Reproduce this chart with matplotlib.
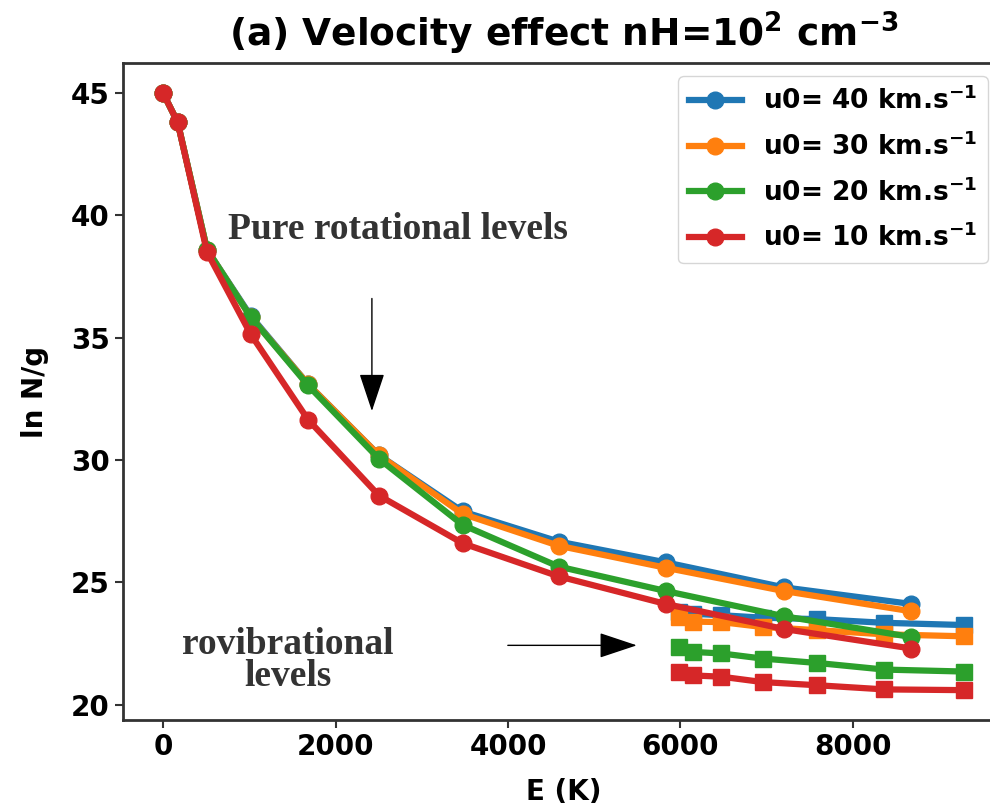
import numpy as np
from matplotlib import pyplot as plt

# Energies of the H2 levels (K)
E_rot = [0, 170, 510, 1015, 1682, 2504, 3474, 4586, 5829, 7197, 8677]
E_vib = [5987, 6149, 6471, 6951, 7586, 8365, 9286]

labels = ['u0= 40 km.s$^{-1}$', 'u0= 30 km.s$^{-1}$',
          'u0= 20 km.s$^{-1}$', 'u0= 10 km.s$^{-1}$']
colors = ['tab:blue', 'tab:orange', 'tab:green', 'tab:red']

# ln N/g, pure rotational levels
rot_40 = [45.0, 43.8, 38.6, 35.9, 33.1, 30.2, 27.9, 26.67, 25.82, 24.8, 24.12]
rot_30 = [45.0, 43.8, 38.6, 35.85, 33.1, 30.2, 27.8, 26.5, 25.6, 24.65, 23.82]
rot_20 = [45.0, 43.8, 38.6, 35.85, 33.05, 30.05, 27.35, 25.65, 24.65, 23.62, 22.77]
rot_10 = [45.0, 43.8, 38.5, 35.15, 31.65, 28.55, 26.6, 25.25, 24.12, 23.1, 22.3]

# ln N/g, rovibrational levels (v=1)
vib_40 = [23.8, 23.72, 23.66, 23.56, 23.5, 23.35, 23.26]
vib_30 = [23.6, 23.4, 23.38, 23.18, 23.05, 22.88, 22.8]
vib_20 = [22.37, 22.16, 22.1, 21.89, 21.71, 21.44, 21.36]
vib_10 = [21.35, 21.2, 21.15, 20.93, 20.8, 20.63, 20.6]

rot = [rot_40, rot_30, rot_20, rot_10]
vib = [vib_40, vib_30, vib_20, vib_10]

plt.rcParams['font.weight'] = 'bold'
plt.rcParams['axes.linewidth'] = 2
plt.rcParams['axes.edgecolor'] = '#333333'

fig = plt.figure(figsize=(9.9, 8.06), dpi=100)
ax = fig.add_axes([0.1242, 0.1067, 0.8899, 0.8151])

for r, v, c, lab in zip(rot, vib, colors, labels):
    ax.plot(E_rot, r, '-o', color=c, lw=4.5, ms=12, label=lab)
    ax.plot(E_vib, v, '-s', color=c, lw=4.5, ms=11)

ax.set_xticks([0, 2000, 4000, 6000, 8000])
ax.set_yticks([20, 25, 30, 35, 40, 45])
ax.tick_params(labelsize=20, width=1.5, length=6, color='#333333')
for t in ax.get_xticklabels() + ax.get_yticklabels():
    t.set_fontweight('bold')

ax.set_xlabel('E (K)', fontsize=20, fontweight='bold', labelpad=12)
ax.set_ylabel('ln N/g', fontsize=20, fontweight='bold', labelpad=16)
ax.set_title('(a) Velocity effect nH=10$^2$ cm$^{-3}$', fontsize=27,
             fontweight='bold', pad=12)

leg = ax.legend(loc='upper right', fontsize=19, handlelength=2.0,
                labelspacing=0.65, bbox_to_anchor=(0.9965, 1.0))

serif = dict(family='Liberation Serif', fontweight='bold', color='#333333')
ax.text(2723, 39.4, 'Pure rotational levels', fontsize=27,
        ha='center', va='center', **serif)
ax.text(1448, 21.8, 'rovibrational\nlevels', fontsize=27,
        ha='center', va='center', multialignment='center',
        linespacing=0.9, **serif)

arrow = dict(arrowstyle='-|>,head_width=0.4,head_length=1.2',
             color='black', lw=1, mutation_scale=20, shrinkA=0, shrinkB=0)
ax.annotate('', xy=(2422, 32.0), xytext=(2422, 36.6), arrowprops=arrow)
ax.annotate('', xy=(5493, 22.43), xytext=(3998, 22.43), arrowprops=arrow)

plt.savefig('out.png', dpi=100)
